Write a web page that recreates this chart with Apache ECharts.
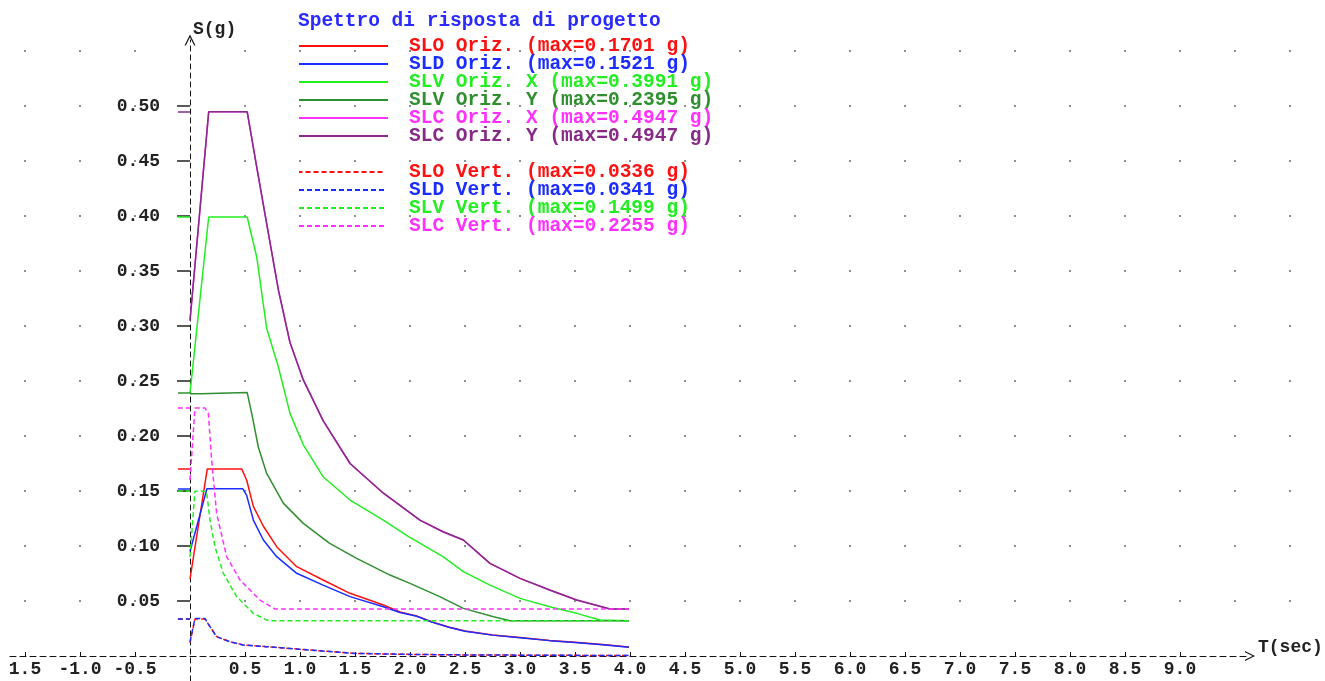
<!DOCTYPE html>
<html>
<head>
<meta charset="utf-8">
<title>Spettro di risposta di progetto</title>
<script src="https://cdn.jsdelivr.net/npm/echarts@6/dist/echarts.min.js"></script>
<style>
  html, body { margin: 0; padding: 0; background: #fff; }
  #chart { width: 1325px; height: 681px; }
</style>
</head>
<body>
<div id="chart"></div>
<script>
  // valori: [T (sec), S (g)]
  var sloOriz = [[0, 0.070], [0.157, 0.1701], [0.47, 0.1701], [0.515, 0.160], [0.576, 0.136], [0.667, 0.118], [0.788, 0.0994], [0.97, 0.0812], [1.21, 0.0691], [1.455, 0.057], [1.758, 0.0464], [1.909, 0.040], [2.06, 0.0365], [2.2, 0.031], [2.36, 0.0262], [2.5, 0.0228], [2.75, 0.0192], [3.0, 0.0168], [3.27, 0.0142], [3.5, 0.0125], [3.75, 0.0104], [3.99, 0.0082]];
  var sldOriz = [[0, 0.095], [0.154, 0.1521], [0.479, 0.1521], [0.515, 0.146], [0.576, 0.1236], [0.667, 0.1055], [0.788, 0.0903], [0.97, 0.0752], [1.21, 0.0645], [1.455, 0.054], [1.758, 0.0448], [1.909, 0.0395], [2.06, 0.0362], [2.2, 0.0308], [2.36, 0.026], [2.5, 0.0226], [2.75, 0.019], [3.0, 0.0166], [3.27, 0.014], [3.5, 0.0123], [3.75, 0.0102], [3.99, 0.0080]];
  var slvOrizX = [[0, 0.239], [0.17, 0.3991], [0.52, 0.3991], [0.606, 0.363], [0.697, 0.298], [0.803, 0.263], [0.909, 0.2206], [1.03, 0.192], [1.21, 0.163], [1.455, 0.1418], [1.758, 0.1236], [1.98, 0.109], [2.3, 0.0903], [2.485, 0.0767], [2.727, 0.0645], [3.0, 0.0524], [3.27, 0.0448], [3.515, 0.0388], [3.727, 0.0327], [3.99, 0.0321]];
  var slvOrizY = [[0, 0.2385], [0.1, 0.2385], [0.11, 0.2395], [0.52, 0.2395], [0.561, 0.2206], [0.621, 0.190], [0.697, 0.166], [0.848, 0.139], [1.03, 0.1206], [1.27, 0.1024], [1.515, 0.0888], [1.818, 0.0736], [2.0, 0.066], [2.27, 0.054], [2.485, 0.0433], [2.76, 0.0357], [2.91, 0.0321], [3.99, 0.0321]];
  var slcOrizX = [[0, 0.305], [0.17, 0.4947], [0.52, 0.4947], [0.606, 0.445], [0.697, 0.393], [0.803, 0.333], [0.909, 0.285], [1.03, 0.251], [1.21, 0.214], [1.455, 0.175], [1.758, 0.148], [1.909, 0.137], [2.09, 0.1236], [2.3, 0.113], [2.485, 0.1055], [2.727, 0.0842], [3.0, 0.0706], [3.27, 0.060], [3.515, 0.0509], [3.818, 0.0427], [3.99, 0.0427]];
  var slcOrizY = [[0, 0.305], [0.17, 0.4947], [0.52, 0.4947], [0.606, 0.445], [0.697, 0.393], [0.803, 0.333], [0.909, 0.285], [1.03, 0.251], [1.21, 0.214], [1.455, 0.175], [1.758, 0.148], [1.909, 0.137], [2.09, 0.1236], [2.3, 0.113], [2.485, 0.1055], [2.727, 0.0842], [3.0, 0.0706], [3.27, 0.060], [3.515, 0.0509], [3.818, 0.0427], [3.99, 0.0427]];
  var sloVert = [[0, 0.012], [0.045, 0.0336], [0.136, 0.0336], [0.182, 0.0267], [0.242, 0.0176], [0.364, 0.013], [0.485, 0.010], [0.697, 0.0085], [1.0, 0.0061], [1.5, 0.0024], [2.0, 0.0015], [2.5, 0.0010], [3.0, 0.0008], [3.5, 0.0006], [3.99, 0.0005]];
  var sldVert = [[0, 0.013], [0.045, 0.0341], [0.136, 0.0341], [0.182, 0.0267], [0.242, 0.0176], [0.364, 0.013], [0.485, 0.010], [0.697, 0.0085], [1.0, 0.0061], [1.5, 0.0024], [2.0, 0.0015], [2.5, 0.0010], [3.0, 0.0008], [3.5, 0.0006], [3.99, 0.0005]];
  var slvVert = [[0, 0.09], [0.045, 0.1499], [0.15, 0.1499], [0.182, 0.1236], [0.227, 0.0994], [0.303, 0.0752], [0.424, 0.054], [0.576, 0.0388], [0.697, 0.0327], [0.72, 0.0321], [3.99, 0.0321]];
  var slcVert = [[0, 0.16], [0.045, 0.2255], [0.136, 0.2255], [0.167, 0.2206], [0.197, 0.178], [0.242, 0.1297], [0.333, 0.0903], [0.455, 0.0691], [0.636, 0.0509], [0.773, 0.0427], [3.99, 0.0427]];

  var orizNames = ['SLO Oriz. (max=0.1701 g)', 'SLD Oriz. (max=0.1521 g)', 'SLV Oriz. X (max=0.3991 g)',
    'SLV Oriz. Y (max=0.2395 g)', 'SLC Oriz. X (max=0.4947 g)', 'SLC Oriz. Y (max=0.4947 g)'];
  var vertNames = ['SLO Vert. (max=0.0336 g)', 'SLD Vert. (max=0.0341 g)', 'SLV Vert. (max=0.1499 g)', 'SLC Vert. (max=0.2255 g)'];
  // trattino a sinistra dell'asse (null = coperto da un'altra curva)
  var orizMax = [0.1701, 0.1521, 0.3991, 0.2395, null, 0.4947];
  var vertMax = [0.0336, 0.0341, 0.1499, 0.2255];

  // tacche e etichette degli assi
  var xTickVals = [-1.5, -1.0, -0.5, 0.5, 1.0, 1.5, 2.0, 2.5, 3.0, 3.5, 4.0, 4.5, 5.0, 5.5, 6.0, 6.5, 7.0, 7.5, 8.0, 8.5, 9.0];
  var xTickLabels = ['1.5', '-1.0', '-0.5', '0.5', '1.0', '1.5', '2.0', '2.5', '3.0', '3.5', '4.0', '4.5', '5.0', '5.5', '6.0', '6.5', '7.0', '7.5', '8.0', '8.5', '9.0'];
  var yTickVals = [0.05, 0.10, 0.15, 0.20, 0.25, 0.30, 0.35, 0.40, 0.45, 0.50];
  var yTickLabels = ['0.05', '0.10', '0.15', '0.20', '0.25', '0.30', '0.35', '0.40', '0.45', '0.50'];
  // punti della griglia
  var dotXs = [-1.5, -1.0, -0.5, 0.5, 1.0, 1.5, 2.0, 2.5, 3.0, 3.5, 4.0, 4.5, 5.0, 5.5, 6.0, 6.5, 7.0, 7.5, 8.0, 8.5, 9.0, 9.5, 10.0];
  var dotYs = [0.05, 0.10, 0.15, 0.20, 0.25, 0.30, 0.35, 0.40, 0.45, 0.50, 0.55];

  var orizColors = ['#ff1010', '#1a2cff', '#22ee22', '#2f8f2f', '#ff30ff', '#872a87'];
  var vertColors = ['#ff1010', '#1a2cff', '#22ee22', '#ff30ff'];
  var vertOffsets = [1.5, 0, 0, 0];
  var FONT = '"Liberation Mono", "DejaVu Sans Mono", monospace';
  var DASH = [5, 3];

  var xLabelMap = {};
  xTickVals.forEach(function (v, i) { xLabelMap[v.toFixed(1)] = xTickLabels[i]; });
  var yLabelMap = {};
  yTickVals.forEach(function (v, i) { yLabelMap[v.toFixed(2)] = yTickLabels[i]; });

  var dots = [];
  dotXs.forEach(function (x) {
    dotYs.forEach(function (y) { dots.push([x, y]); });
  });

  function makeSeries(name, data, color, dashed, maxVal, dashOffset) {
    var lineType = dashed ? DASH : 'solid';
    var s = {
      name: name,
      type: 'line',
      data: data,
      symbol: 'none',
      animation: false,
      lineStyle: { color: color, width: 1.5, type: lineType, dashOffset: dashOffset || 0 },
      itemStyle: { color: color }
    };
    if (maxVal != null) {
      s.markLine = {
        silent: true,
        symbol: ['none', 'none'],
        label: { show: false },
        lineStyle: { color: color, width: 1.5, type: lineType },
        data: [[{ coord: [-0.11, maxVal] }, { coord: [0, maxVal] }]]
      };
    }
    return s;
  }

  var orizData = [sloOriz, sldOriz, slvOrizX, slvOrizY, slcOrizX, slcOrizY];
  var vertData = [sloVert, sldVert, slvVert, slcVert];

  var series = [{
    type: 'scatter',
    data: dots,
    symbolSize: 2,
    clip: false,
    silent: true,
    itemStyle: { color: '#444' },
    z: 1
  }];
  orizNames.forEach(function (n, i) { series.push(makeSeries(n, orizData[i], orizColors[i], false, orizMax[i], 0)); });
  vertNames.forEach(function (n, i) { series.push(makeSeries(n, vertData[i], vertColors[i], true, vertMax[i], vertOffsets[i])); });

  var chevron = 'path://M0,10 L5,0 L10,10 L8.8,10 L5,2.4 L1.2,10 Z';

  function legendOpt(names, colors, top, width, pad) {
    return {
      orient: 'vertical',
      left: 298,
      top: top,
      padding: 0,
      itemGap: -2,
      itemWidth: width,
      itemHeight: 2,
      selectedMode: false,
      itemStyle: { opacity: 0 },
      data: names.map(function (n, i) { return { name: n, textStyle: { color: colors[i] } }; }),
      textStyle: { fontFamily: FONT, fontSize: 19.5, fontWeight: 'bold', lineHeight: 18, padding: [0, 0, 0, pad] }
    };
  }

  var myChart = echarts.init(document.getElementById('chart'));
  myChart.setOption({
    backgroundColor: '#ffffff',
    animation: false,
    title: {
      text: 'Spettro di risposta di progetto',
      left: 298,
      top: 11,
      padding: 0,
      textStyle: { color: '#2a2aff', fontFamily: FONT, fontSize: 19.5, fontWeight: 'bold' }
    },
    legend: [
      legendOpt(orizNames, orizColors, 36, 89, 16),
      legendOpt(vertNames, vertColors, 162, 85, 20)
    ],
    // asse Y spostato su T=0 con offset (px 190), asse X su S=0 (px 656)
    grid: { left: 10, right: 75, top: 40, bottom: 0, containLabel: false, outerBoundsMode: 'none' },
    xAxis: {
      type: 'value',
      min: -1.63636,
      max: 9.63636,
      offset: -25,
      name: 'T(sec)',
      nameLocation: 'end',
      nameGap: 8,
      nameTextStyle: { color: '#222', fontFamily: FONT, fontSize: 18, fontWeight: 'bold', verticalAlign: 'bottom', align: 'left' },
      axisLine: {
        onZero: false,
        symbol: ['none', chevron],
        symbolSize: [10, 14],
        lineStyle: { color: '#111', width: 1, type: [6, 4] }
      },
      axisTick: { show: true, inside: true, length: 4, customValues: xTickVals, lineStyle: { color: '#111' } },
      axisLabel: {
        customValues: xTickVals,
        margin: 4,
        color: '#222',
        fontFamily: FONT,
        fontSize: 18,
        fontWeight: 'bold',
        formatter: function (v) { return xLabelMap[v.toFixed(1)] || ''; }
      },
      splitLine: { show: false }
    },
    yAxis: {
      type: 'value',
      min: -0.0227,
      max: 0.56,
      offset: -180,
      name: 'S(g)',
      nameLocation: 'end',
      nameGap: 2,
      nameTextStyle: { color: '#222', fontFamily: FONT, fontSize: 18, fontWeight: 'bold', align: 'left', verticalAlign: 'bottom', padding: [0, 0, 0, 3] },
      axisLine: {
        onZero: false,
        symbol: ['none', chevron],
        symbolSize: [12, 11],
        lineStyle: { color: '#111', width: 1, type: [5, 4] }
      },
      axisTick: { show: true, length: 13, customValues: yTickVals, lineStyle: { color: '#222', width: 1.5 } },
      axisLabel: {
        customValues: yTickVals,
        margin: 30,
        color: '#222',
        fontFamily: FONT,
        fontSize: 18,
        fontWeight: 'bold',
        formatter: function (v) { return yLabelMap[v.toFixed(2)] || ''; }
      },
      splitLine: { show: false }
    },
    series: series
  });
</script>
</body>
</html>
